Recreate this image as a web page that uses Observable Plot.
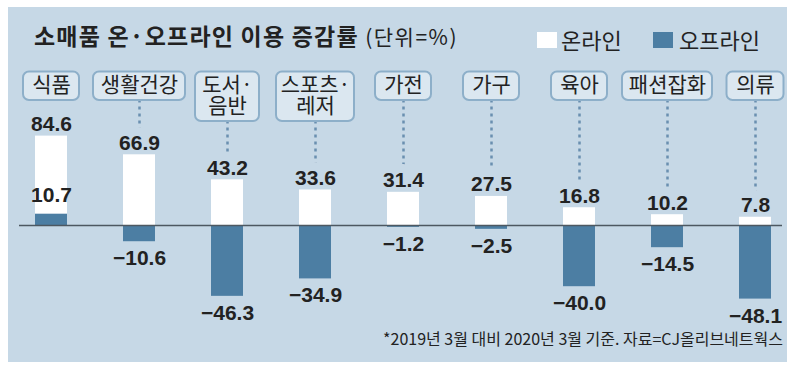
<!DOCTYPE html>
<html>
<head>
<meta charset="utf-8">
<script src="https://cdn.jsdelivr.net/npm/d3@7"></script>
<script src="https://cdn.jsdelivr.net/npm/@observablehq/plot@0.6"></script>
<style>
  body { margin: 0; background: #ffffff; }
  #wrap { position: relative; width: 800px; height: 370px; overflow: hidden; font-family: "Noto Sans CJK KR", sans-serif; color: #222; }
  #panel { position: absolute; left: 8px; top: 7px; width: 779px; height: 355px; background: #c6d8e6; }
  #title { position: absolute; left: 34px; top: 19px; font-size: 23px; font-weight: 700; white-space: nowrap; line-height: 32px; letter-spacing: 1.2px; }
  #title span { font-weight: 400; font-size: 21px; letter-spacing: 1.5px; }
  .leg { position: absolute; top: 23px; font-size: 22px; line-height: 32px; white-space: nowrap; }
  .sw { position: absolute; top: 32px; width: 20px; height: 16px; }
  #caption { position: absolute; right: 17px; top: 328px; font-size: 16px; line-height: 20px; white-space: nowrap; }
  #chart { position: absolute; left: 0; top: 0; }
</style>
</head>
<body>
<div id="wrap">
  <div id="panel"></div>
  <div id="chart"></div>
  <div id="title">소매품 온·오프라인 이용 증감률 <span>(단위=%)</span></div>
  <div class="sw" style="left:537px;background:#ffffff;"></div>
  <div class="leg" style="left:561px;">온라인</div>
  <div class="sw" style="left:653px;background:#4c7ea3;"></div>
  <div class="leg" style="left:679px;">오프라인</div>
  <div id="caption">*2019년 3월 대비 2020년 3월 기준. 자료=CJ올리브네트웍스</div>
</div>
<script>
// ---- data ----
const categories = ["식품", "생활건강", "도서·\n음반", "스포츠·\n레저", "가전", "가구", "육아", "패션잡화", "의류"];
const online = [84.6, 66.9, 43.2, 33.6, 31.4, 27.5, 16.8, 10.2, 7.8];
const offline = [10.7, -10.6, -46.3, -34.9, -1.2, -2.5, -40.0, -14.5, -48.1];

// ---- styles ----
const PANEL = "#c6d8e6";
const BLUE = "#4c7ea3";
const INK = "#222222";
const NUMFONT = "'Liberation Sans Narrow', 'Arial Narrow', sans-serif";
const KRFONT = "'Noto Sans CJK KR', sans-serif";
const boxWidth = {"식품": 56, "생활건강": 92, "도서·\n음반": 64, "스포츠·\n레저": 78, "가전": 56, "가구": 56, "육아": 56, "패션잡화": 90, "의류": 57};

const rows = categories.map((c, i) => ({category: c, online: online[i], offline: offline[i]}));
const fmt = d3.format(".1f");

const W = 800, H = 370;
const marginTop = 71.5;      // top of label boxes
const baselineY = 225;       // pixel of zero
const marginBottom = H - baselineY;
const frameBottom = H - marginBottom;

const boxMarks = categories.map(c => {
  const inset = -(boxWidth[c] - 32) / 2;
  const twoLine = c.includes("\n");
  return Plot.cell(rows, {
    filter: d => d.category === c,
    x: "category",
    fill: "#dbe7f0",
    stroke: "#8dafc9",
    strokeWidth: 2,
    rx: 6,
    insetLeft: inset,
    insetRight: inset,
    insetTop: 0,
    insetBottom: frameBottom - (twoLine ? 121 : 100)
  });
});

const chart = Plot.plot({
  width: W,
  height: H,
  marginTop,
  marginBottom,
  marginLeft: 19,
  marginRight: 18,
  style: {background: "transparent", overflow: "visible"},
  x: {type: "band", domain: categories, range: [21, 784], paddingInner: 0.638, paddingOuter: 0.14, axis: null},
  y: {type: "linear", domain: [-50, 0, 90], range: [301.5, baselineY, 129.9], axis: null},
  marks: [
    // dotted leaders from label box down to the online bar
    Plot.ruleX(rows, {
      filter: d => d.category !== "식품",
      x: "category",
      stroke: "#6a8fb0",
      strokeWidth: 2.5,
      strokeDasharray: "3,4"
    }),
    // online value labels (halo keeps a gap in the leader)
    Plot.text(rows, {
      x: "category", y: "online", text: d => fmt(d.online),
      lineAnchor: "bottom", dy: -5,
      fontSize: 21, fontFamily: NUMFONT, fontWeight: "bold", fill: INK,
      stroke: PANEL, strokeWidth: 18, strokeLinejoin: "round", paintOrder: "stroke"
    }),
    ...boxMarks,
    Plot.text(rows, {
      x: "category",
      text: "category",
      frameAnchor: "top",
      lineAnchor: "top",
      dy: 5,
      lineHeight: 1.0,
      fontSize: 21,
      fontFamily: KRFONT,
      fill: INK
    }),
    Plot.barY(rows, {x: "category", y: "online", fill: "#ffffff"}),
    Plot.barY(rows, {x: "category", y: "offline", fill: BLUE}),
    Plot.ruleY([0], {stroke: "#4d5861", strokeWidth: 1.5}),
    Plot.text(rows, {
      filter: d => d.offline > 0,
      x: "category", y: "offline", text: d => fmt(d.offline),
      lineAnchor: "bottom", dy: -12,
      fontSize: 21, fontFamily: NUMFONT, fontWeight: "bold", fill: INK
    }),
    Plot.text(rows, {
      filter: d => d.offline < 0,
      x: "category", y: "offline", text: d => fmt(d.offline),
      lineAnchor: "top", dy: 8.5,
      fontSize: 21, fontFamily: NUMFONT, fontWeight: "bold", fill: INK
    })
  ]
});
document.getElementById("chart").appendChild(chart);
</script>
</body>
</html>
